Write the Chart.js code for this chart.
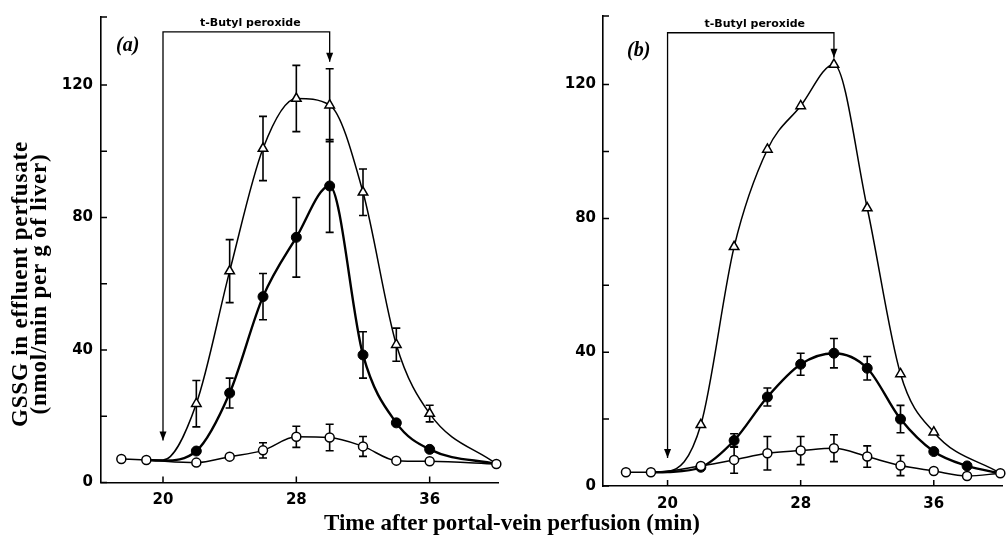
<!DOCTYPE html>
<html>
<head>
<meta charset="utf-8">
<script src="https://cdn.jsdelivr.net/npm/chart.js@4.4.1/dist/chart.umd.min.js"></script>
<style>
  body { margin: 0; background: #fff; }
  #wrap { position: relative; width: 1008px; height: 542px; overflow: hidden; }
  .panel { position: absolute; top: 0; height: 542px; }
  #pa { left: 0; width: 505px; }
  #pb { left: 505px; width: 503px; }
  .ytitle {
    position: absolute; left: -131px; top: 265px; width: 320px; height: 38px;
    font: bold 23px "Liberation Serif", serif; line-height: 19px; letter-spacing: 0.8px;
    text-align: center; transform: rotate(-90deg); color: #000; white-space: nowrap;
  }
  .xtitle {
    position: absolute; left: 0; width: 1024px; top: 510px; text-align: center;
    font: bold 23px "Liberation Serif", serif; color: #000;
  }
  .tag { position: absolute; font: italic bold 20px "Liberation Serif", serif; color: #000; }
</style>
</head>
<body>
<div id="wrap">
  <div class="panel" id="pa"><canvas id="chartA"></canvas></div>
  <div class="panel" id="pb"><canvas id="chartB"></canvas></div>
  <div class="ytitle">GSSG in effluent perfusate<br>(nmol/min per g of liver)</div>
  <div class="xtitle">Time after portal-vein perfusion (min)</div>
  <div class="tag" style="left:116px; top:33px;">(a)</div>
  <div class="tag" style="left:627px; top:38px;">(b)</div>
</div>
<script>
// --- DATA ---
const time = [17.5, 19, 20, 22, 24, 26, 28, 30, 32, 34, 36, 38, 40];
const xTickLabels = [20, 28, 36];

// panel (a)
const openA = [7.1, 6.8, null, 6.0, 7.8, 9.7, 13.8, 13.6, 10.9, 6.6, 6.4, null, 5.6];
const openErrA = [0, 0, 0, 0, 0, 2.3, 3.2, 4, 3, 0, 0, 0, 0];
const filledA = [null, 6.8, 6.6, 9.5, 27, 56.1, 74, 89.5, 38.5, 18, 10, null, 5.6];
const filledErrA = [0, 0, 0, 0, 4.5, 7, 12, 14, 7, 0, 0, 0, 0];
const triA = [null, 6.8, 6.8, 23.8, 63.8, 100.8, 115.9, 113.9, 87.6, 41.6, 20.8, null, 5.6];
const triErrA = [0, 0, 0, 7, 9.5, 9.7, 10, 11, 7, 5, 2.5, 0, 0];

// panel (b)
const openB = [4.1, 4.1, null, 6.0, 7.8, 9.8, 10.6, 11.3, 8.8, 6.1, 4.5, 3.0, 3.8];
const openErrB = [0, 0, 0, 0, 4, 5, 4.2, 4, 3.2, 3, 0, 0, 0];
const filledB = [null, 4.1, 4.2, 5.6, 13.6, 26.6, 36.4, 39.7, 35.2, 20, 10.3, 6.0, 3.8];
const filledErrB = [0, 0, 0, 0, 2, 2.7, 3.3, 4.4, 3.5, 4.1, 0, 0, 0];
const triB = [null, 4.1, 4.3, 18.3, 71.5, 100.6, 113.6, 126, 83.1, 33.5, 16.1, null, 3.8];

// --- HELPERS ---
function pts(vals, errs) {
  return time.map((t, i) => ({ x: t, y: vals[i], e: errs ? errs[i] : 0 }))
             .filter(p => p.y !== null);
}

// curve anchors at 19/20/40 carry no marker of their own
function markerSize(r) {
  return ctx => {
    const p = ctx.raw;
    return (p && (p.x < 21 || p.x > 39)) ? 0 : r;
  };
}

const errorBars = {
  id: 'errorBars',
  beforeDatasetsDraw(chart) {
    const ctx = chart.ctx, ys = chart.scales.y;
    ctx.save();
    ctx.strokeStyle = '#000';
    ctx.lineWidth = 1.6;
    chart.data.datasets.forEach((ds, di) => {
      chart.getDatasetMeta(di).data.forEach((el, i) => {
        const p = ds.data[i];
        if (!p.e) return;
        const top = ys.getPixelForValue(p.y + p.e);
        const bot = ys.getPixelForValue(p.y - p.e);
        ctx.beginPath();
        ctx.moveTo(el.x, top); ctx.lineTo(el.x, bot);
        ctx.moveTo(el.x - 4, top); ctx.lineTo(el.x + 4, top);
        ctx.moveTo(el.x - 4, bot); ctx.lineTo(el.x + 4, bot);
        ctx.stroke();
      });
    });
    ctx.restore();
  }
};

// ticks drawn inward like the original figure
const innerTicks = {
  id: 'innerTicks',
  afterDraw(chart) {
    const ctx = chart.ctx, a = chart.chartArea;
    const xs = chart.scales.x, ys = chart.scales.y;
    ctx.save();
    ctx.strokeStyle = '#000';
    ctx.lineWidth = 1.5;
    ctx.beginPath();
    ys.ticks.forEach(t => {
      const py = ys.getPixelForValue(t.value);
      ctx.moveTo(a.left, py); ctx.lineTo(a.left + 6, py);
    });
    xs.ticks.forEach(t => {
      const px = xs.getPixelForValue(t.value);
      ctx.moveTo(px, a.bottom); ctx.lineTo(px, a.bottom - 6);
    });
    ctx.stroke();
    ctx.restore();
  }
};

function arrowHead(ctx, x, y) {
  ctx.beginPath();
  ctx.moveTo(x, y);
  ctx.lineTo(x - 3.5, y - 9);
  ctx.lineTo(x + 3.5, y - 9);
  ctx.closePath();
  ctx.fill();
}

// t-Butyl peroxide bracket
const doseBracket = {
  id: 'doseBracket',
  afterDraw(chart, args, o) {
    const ctx = chart.ctx, xs = chart.scales.x, ys = chart.scales.y;
    const x1 = xs.getPixelForValue(o.on), x2 = xs.getPixelForValue(o.off);
    const yTop = ys.getPixelForValue(o.top);
    const yOn = ys.getPixelForValue(o.onTip), yOff = ys.getPixelForValue(o.offTip);
    ctx.save();
    ctx.strokeStyle = '#000';
    ctx.fillStyle = '#000';
    ctx.lineWidth = 1.3;
    ctx.beginPath();
    ctx.moveTo(x1, yOn); ctx.lineTo(x1, yTop); ctx.lineTo(x2, yTop); ctx.lineTo(x2, yOff);
    ctx.stroke();
    arrowHead(ctx, x1, yOn);
    arrowHead(ctx, x2, yOff);
    ctx.font = 'bold 11px "DejaVu Sans", sans-serif';
    ctx.textAlign = 'center';
    ctx.textBaseline = 'alphabetic';
    ctx.fillText('t-Butyl peroxide', (x1 + x2) / 2 + 4, yTop - 6);
    ctx.restore();
  }
};

function makePanel(id, sets, p) {
  const tickFont = { family: '"DejaVu Sans", sans-serif', size: 15, weight: 'bold' };
  return new Chart(document.getElementById(id), {
    type: 'line',
    data: {
      datasets: [
        {
          data: pts(sets.open, sets.openErr),
          borderColor: '#000', borderWidth: 1.5,
          pointStyle: 'circle', pointRadius: 4.5, pointBackgroundColor: '#fff',
          pointBorderColor: '#000', pointBorderWidth: 1.5,
          cubicInterpolationMode: 'monotone', spanGaps: true
        },
        {
          data: pts(sets.filled, sets.filledErr),
          borderColor: '#000', borderWidth: 2.4,
          pointStyle: 'circle', pointRadius: markerSize(5), pointBackgroundColor: '#000',
          pointBorderColor: '#000', pointBorderWidth: 1,
          cubicInterpolationMode: 'monotone', spanGaps: true
        },
        {
          data: pts(sets.tri, sets.triErr),
          borderColor: '#000', borderWidth: 1.5,
          pointStyle: 'triangle', pointRadius: markerSize(5.5), pointBackgroundColor: '#fff',
          pointBorderColor: '#000', pointBorderWidth: 1.5,
          cubicInterpolationMode: 'monotone', spanGaps: true
        }
      ]
    },
    options: {
      responsive: true,
      maintainAspectRatio: false,
      animation: false,
      clip: false,
      layout: { padding: { left: 0, top: 15, right: p.right, bottom: 0 } },
      plugins: {
        legend: { display: false },
        tooltip: { enabled: false },
        doseBracket: p.bracket
      },
      scales: {
        x: {
          type: 'linear', min: p.xMin, max: p.xMax,
          grid: { display: false, drawTicks: false },
          border: { display: true, color: '#000', width: 1.6 },
          afterBuildTicks: s => { s.ticks = xTickLabels.map(v => ({ value: v })); },
          afterFit: s => { s.height = p.xHeight; },
          ticks: { color: '#000', font: tickFont, padding: 9, maxRotation: 0 }
        },
        y: {
          type: 'linear', min: 0, max: 140.5,
          grid: { display: false, drawTicks: false },
          border: { display: true, color: '#000', width: 1.6 },
          afterFit: s => { s.width = p.yWidth; },
          ticks: {
            color: '#000', font: tickFont, padding: p.yPad, stepSize: 20,
            callback: v => (v % 40 === 0 ? v : '')
          }
        }
      }
    },
    plugins: [errorBars, innerTicks, doseBracket]
  });
}

makePanel('chartA',
  { open: openA, openErr: openErrA, filled: filledA, filledErr: filledErrA, tri: triA, triErr: triErrA },
  { xMin: 16.28, xMax: 40.1, right: 7, yWidth: 101, xHeight: 59.5, yPad: 8,
    bracket: { on: 20, off: 30, top: 136, onTip: 12.7, offTip: 127 } });

makePanel('chartB',
  { open: openB, openErr: openErrB, filled: filledB, filledErr: filledErrB, tri: triB, triErr: null },
  { xMin: 16.12, xMax: 40.1, right: 0, yWidth: 98, xHeight: 56, yPad: 7,
    bracket: { on: 20, off: 30, top: 135.5, onTip: 8.4, offTip: 128 } });
</script>
</body>
</html>
